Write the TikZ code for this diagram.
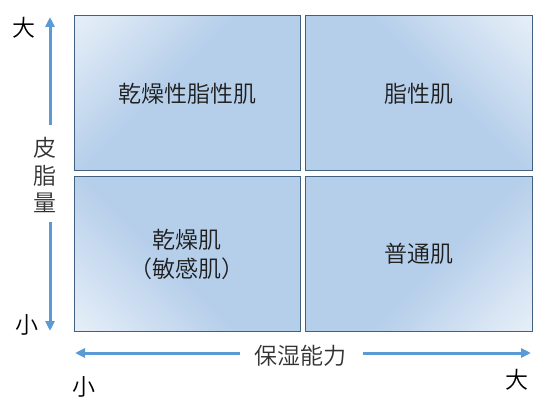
\documentclass[tikz,border=0pt]{standalone}
\usepackage{fontspec}
\setmainfont{Noto Sans CJK JP}[UprightFont=* DemiLight]
\usetikzlibrary{arrows.meta}
\definecolor{boxblue}{RGB}{181,206,234}
\definecolor{boxline}{RGB}{66,96,128}
\definecolor{arrowblue}{RGB}{91,155,213}
\definecolor{txt}{RGB}{30,30,30}
\definecolor{axtxt}{RGB}{50,50,50}
\pgfdeclareverticalshading{cornerfade}{100bp}{color(0bp)=(boxblue); color(55bp)=(boxblue); color(100bp)=(white)}
\begin{document}
\begin{tikzpicture}[x=1pt,y=1pt]
\useasboundingbox (0,0) rectangle (558,408);
\tikzset{
  quad/.style={draw=boxline, line width=1pt, shading=cornerfade,
    minimum width=226pt, minimum height=155pt, inner sep=0pt,
    font=\fontsize{23}{29}\selectfont, text=txt, align=center},
  axarrow/.style={draw=arrowblue, line width=3pt, -{Triangle[length=10pt,width=9pt]}},
  lab/.style={font=\fontsize{23}{27.5}\selectfont, inner sep=0pt, text=black},
}
\node[quad, shading angle=45] (tl) at (187,314.5) {乾燥性脂性肌};
\node[quad, shading angle=-45, minimum width=227pt] (tr) at (418.5,314.5) {脂性肌};
\node[quad, shading angle=135, minimum height=154pt] (bl) at (187,154) {乾燥肌\\（敏感肌）};
\node[quad, shading angle=-135, minimum width=227pt, minimum height=154pt] (br) at (418.5,154) {普通肌};

\node[lab] (ybig) at (24,380) {大};
\node[lab] (ysmall) at (27,83) {小};
\node[lab, align=center, text=axtxt] (ylab) at (45,233) {皮\\脂\\量};
\node[lab] (xsmall) at (84,21) {小};
\node[lab] (xbig) at (517,28) {大};
\node[lab, text=axtxt] (xlab) at (300,52) {保湿能力};

\coordinate (yu0) at (50,283);
\coordinate (yu1) at (50,391);
\coordinate (yd0) at (50,186);
\coordinate (yd1) at (50,77);
\coordinate (xl0) at (240,55);
\coordinate (xl1) at (75,55);
\coordinate (xr0) at (363,55);
\coordinate (xr1) at (531,55);
\draw[axarrow] (yu0) -- (yu1);
\draw[axarrow] (yd0) -- (yd1);
\draw[axarrow] (xl0) -- (xl1);
\draw[axarrow] (xr0) -- (xr1);
\end{tikzpicture}
\end{document}
